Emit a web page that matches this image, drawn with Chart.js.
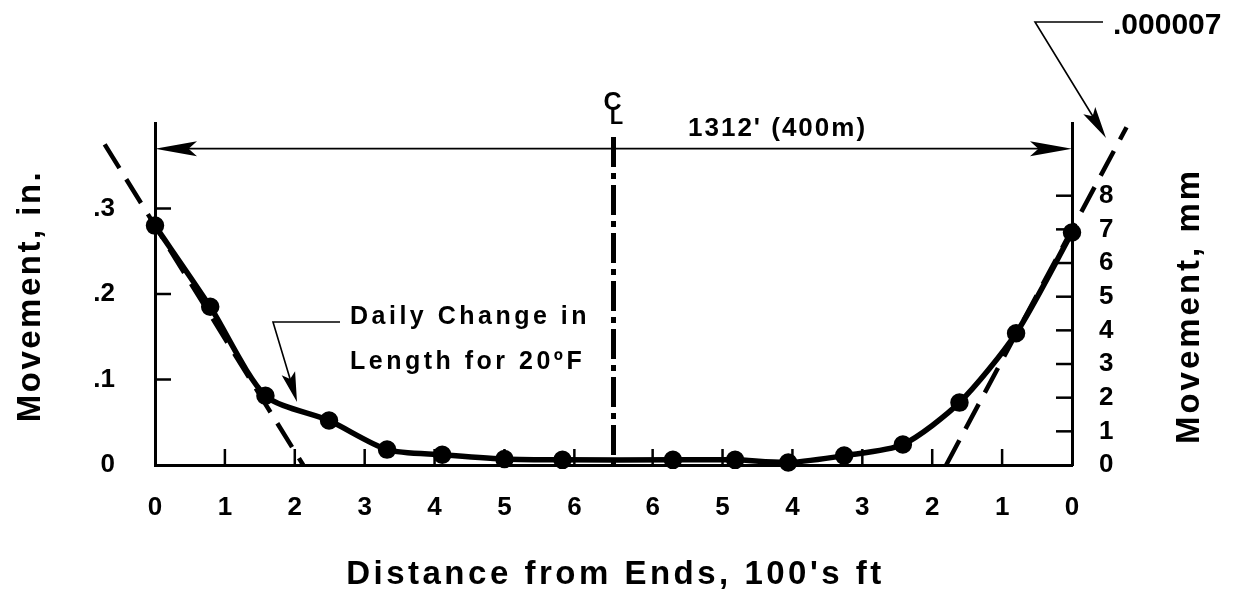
<!DOCTYPE html>
<html><head><meta charset="utf-8">
<script src="https://cdn.jsdelivr.net/npm/chart.js@4.4.0/dist/chart.umd.min.js"></script>
<style>html,body{margin:0;padding:0;background:#fff;}canvas{display:block;}</style>
</head><body>
<canvas id="c" width="1239" height="594"></canvas>
<script>
// ---- data (distance in 100's ft measured from the left end; movement in inches) ----
const distanceFromLeft = [0, 0.79, 1.58, 2.49, 3.32, 4.11, 5.00, 5.83, 7.41, 8.30, 9.06, 9.86, 10.70, 11.51, 12.32, 13.12];
const movementIn       = [0.280, 0.185, 0.081, 0.052, 0.018, 0.012, 0.007, 0.006, 0.006, 0.006, 0.003, 0.011, 0.024, 0.073, 0.154, 0.272];
const leftTangentX  = [-0.72, 2.12];
const leftTangentY  = [0.375, 0];
const rightTangentX = [11.32, 13.90];
const rightTangentY = [0, 0.395];
const xTickValues = [0, 1, 2, 3, 4, 5, 6, 7.12, 8.12, 9.12, 10.12, 11.12, 12.12, 13.12];
const xTickLabels = ['0','1','2','3','4','5','6','6','5','4','3','2','1','0'];
const inTickValues = [0, 0.1, 0.2, 0.3, 0.4];
const inTickLabels = ['0', '.1', '.2', '.3', ''];
const mmTickValues = [0, 1, 2, 3, 4, 5, 6, 7, 8];
const mmTickLabels = ['0','1','2','3','4','5','6','7','8'];
const spanLength = 13.12;
const centerLine = 6.56;
const yMaxIn = 0.4;
const mmPerIn = 25.4;
const dimensionLevel = 0.37;

const FONT = "'Liberation Sans', Arial, Helvetica, sans-serif";

function arrowHead(ctx, x0, y0, x1, y1, len, half) {
  const a = Math.atan2(y1 - y0, x1 - x0);
  ctx.save();
  ctx.translate(x1, y1); ctx.rotate(a);
  ctx.beginPath();
  ctx.moveTo(0, 0); ctx.lineTo(-len, -half); ctx.lineTo(-len * 0.8, 0); ctx.lineTo(-len, half);
  ctx.closePath(); ctx.fill();
  ctx.restore();
}
function spacedText(ctx, txt, x, y, font, spacing, align) {
  ctx.save();
  ctx.font = font;
  ctx.letterSpacing = spacing + 'px';
  ctx.textAlign = align || 'left';
  ctx.textBaseline = 'alphabetic';
  ctx.fillStyle = '#000';
  ctx.fillText(txt, x, y);
  ctx.restore();
}

const decor = {
  id: 'decor',
  beforeDatasetsDraw(chart) {
    const ctx = chart.ctx, x = chart.scales.x, y = chart.scales.y;
    const cx = x.getPixelForValue(centerLine);
    ctx.save();
    ctx.strokeStyle = '#000';
    ctx.lineWidth = 5;
    ctx.setLineDash([30, 6, 6, 6]);
    ctx.beginPath();
    ctx.moveTo(cx, 137);
    ctx.lineTo(cx, y.getPixelForValue(0));
    ctx.stroke();
    ctx.restore();
  },
  afterDraw(chart) {
    const ctx = chart.ctx, x = chart.scales.x, y = chart.scales.y, y2 = chart.scales.y2;
    const area = chart.chartArea;
    ctx.save();
    ctx.strokeStyle = '#000'; ctx.fillStyle = '#000';
    // inward tick marks
    ctx.lineWidth = 2.5;
    const tl = 16;
    inTickValues.forEach(v => { if (v > 0 && v < yMaxIn) { const p = y.getPixelForValue(v); ctx.beginPath(); ctx.moveTo(area.left, p); ctx.lineTo(area.left + tl, p); ctx.stroke(); } });
    mmTickValues.forEach(v => { if (v > 0) { const p = y2.getPixelForValue(v); ctx.beginPath(); ctx.moveTo(area.right, p); ctx.lineTo(area.right - tl, p); ctx.stroke(); } });
    xTickValues.forEach(v => { if (v > 0 && v < spanLength) { const p = x.getPixelForValue(v); ctx.beginPath(); ctx.moveTo(p, area.bottom); ctx.lineTo(p, area.bottom - tl); ctx.stroke(); } });

    // dimension line 1312' (400m)
    const dy = y.getPixelForValue(dimensionLevel);
    const xl = x.getPixelForValue(0), xr = x.getPixelForValue(spanLength);
    ctx.lineWidth = 1.6;
    ctx.beginPath(); ctx.moveTo(xl + 10, dy); ctx.lineTo(xr - 10, dy); ctx.stroke();
    arrowHead(ctx, xr, dy, xl, dy, 42, 7.5);
    arrowHead(ctx, xl, dy, xr, dy, 42, 7.5);
    spacedText(ctx, "1312' (400m)", 688, 136, "bold 26px " + FONT, 2, 'left');

    // centre line symbol
    const cx = x.getPixelForValue(centerLine);
    spacedText(ctx, 'C', cx - 1, 110, "bold 25px " + FONT, 0, 'center');
    spacedText(ctx, 'L', cx + 3, 124, "bold 22px " + FONT, 0, 'center');

    // Daily change annotation
    ctx.lineWidth = 1.6;
    ctx.beginPath(); ctx.moveTo(340, 322); ctx.lineTo(273, 322); ctx.lineTo(294, 392); ctx.stroke();
    arrowHead(ctx, 273, 322, 297, 402, 30, 7);
    spacedText(ctx, 'Daily Change in', 350, 324, "bold 25px " + FONT, 3.5, 'left');
    spacedText(ctx, 'Length for 20\u00BAF', 350, 369, "bold 25px " + FONT, 3.5, 'left');

    // .000007 annotation
    ctx.beginPath(); ctx.moveTo(1103, 22); ctx.lineTo(1035, 22); ctx.lineTo(1100, 128); ctx.stroke();
    arrowHead(ctx, 1035, 22, 1106, 138, 32, 7);
    spacedText(ctx, '.000007', 1113, 34, "bold 30px " + FONT, 0, 'left');

    // axis titles
    spacedText(ctx, "Distance from Ends, 100's ft", (xl + xr) / 2 + 2, 584, "bold 33px " + FONT, 3.5, 'center');
    const my = (area.top + area.bottom) / 2;
    ctx.save(); ctx.translate(40, my + 2); ctx.rotate(-Math.PI / 2);
    spacedText(ctx, 'Movement, in.', 0, 0, "bold 33px " + FONT, 2.5, 'center');
    ctx.restore();
    ctx.save(); ctx.translate(1199, my + 12); ctx.rotate(-Math.PI / 2);
    spacedText(ctx, 'Movement, mm', 0, 0, "bold 33px " + FONT, 3, 'center');
    ctx.restore();
    ctx.restore();
  }
};

const toPts = (xs, ys) => xs.map((v, i) => ({ x: v, y: ys[i] }));
const tickFont = { family: FONT, size: 26, weight: 'bold' };

new Chart(document.getElementById('c'), {
  type: 'scatter',
  data: {
    datasets: [
      { data: toPts(distanceFromLeft, movementIn), showLine: true, borderColor: '#000', backgroundColor: '#000',
        borderWidth: 5.5, pointRadius: 6.5, pointBackgroundColor: '#000', pointBorderColor: '#000',
        tension: 0.25, clip: false, yAxisID: 'y' },
      { data: toPts(leftTangentX, leftTangentY), showLine: true, borderColor: '#000', borderWidth: 4.5,
        borderDash: [28, 13], pointRadius: 0, clip: false, yAxisID: 'y' },
      { data: toPts(rightTangentX, rightTangentY), showLine: true, borderColor: '#000', borderWidth: 4.5,
        borderDash: [28, 13], pointRadius: 0, clip: false, yAxisID: 'y' }
    ]
  },
  options: {
    responsive: false, animation: false, devicePixelRatio: 1,
    layout: { padding: { top: 123, left: 0, right: 0, bottom: 0 } },
    plugins: { legend: { display: false }, tooltip: { enabled: false } },
    scales: {
      x: {
        type: 'linear', min: 0, max: spanLength, position: 'bottom',
        afterBuildTicks: s => { s.ticks = xTickValues.map(v => ({ value: v })); },
        afterFit: s => { s.height = 594 - 465; },
        ticks: { autoSkip: false, maxRotation: 0, padding: 27, color: '#000', font: tickFont,
                 callback: (v, i) => xTickLabels[i] },
        grid: { display: false, drawTicks: false },
        border: { display: true, color: '#000', width: 3 }
      },
      y: {
        type: 'linear', min: 0, max: yMaxIn, position: 'left',
        afterBuildTicks: s => { s.ticks = inTickValues.map(v => ({ value: v })); },
        afterFit: s => { s.width = 155; },
        ticks: { padding: 40, color: '#000', font: tickFont, callback: (v, i) => inTickLabels[i] },
        grid: { display: false, drawTicks: false },
        border: { display: true, color: '#000', width: 3 }
      },
      y2: {
        type: 'linear', min: 0, max: yMaxIn * mmPerIn, position: 'right',
        afterBuildTicks: s => { s.ticks = mmTickValues.map(v => ({ value: v })); },
        afterFit: s => { s.width = 1239 - 1072; },
        ticks: { padding: 27, color: '#000', font: tickFont, callback: (v, i) => mmTickLabels[i] },
        grid: { display: false, drawTicks: false },
        border: { display: true, color: '#000', width: 3 }
      }
    }
  },
  plugins: [decor]
});
</script>
</body></html>
